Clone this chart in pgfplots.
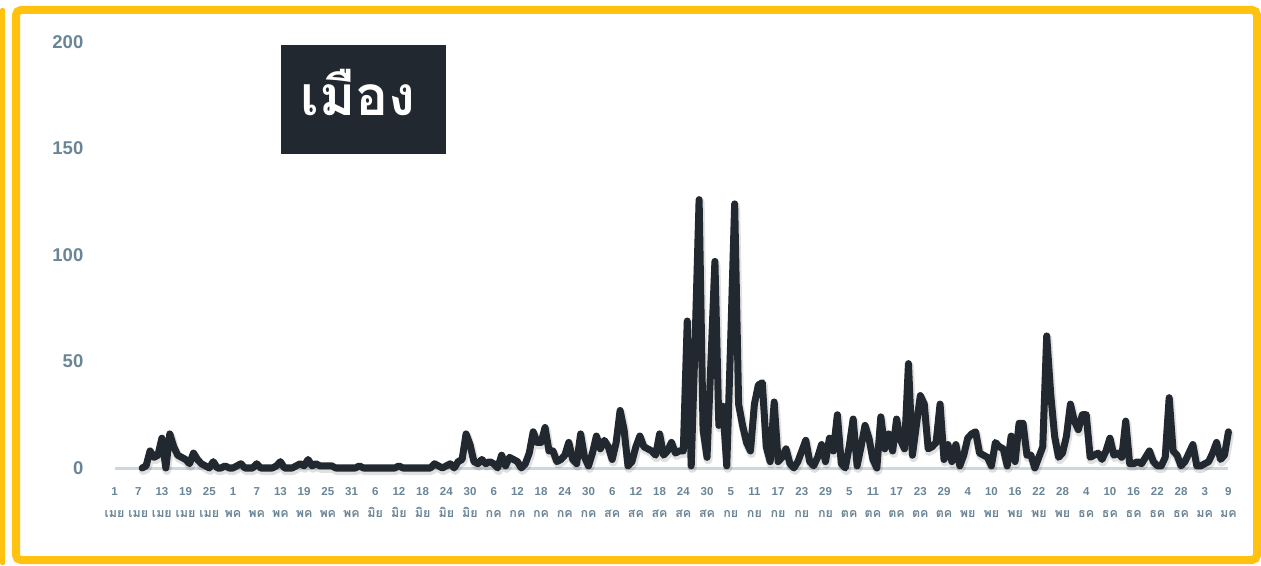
\documentclass[border=0pt]{standalone}
\usepackage{fontspec}
\setmainfont{Liberation Sans}
\newfontfamily\thaifont[Script=Thai]{Loma}
\usepackage{pgfplots}
\pgfplotsset{compat=1.18}

\definecolor{frame}{HTML}{FFC20E}
\definecolor{ink}{HTML}{22282F}
\definecolor{ticktext}{HTML}{6A8596}
\definecolor{baseline}{HTML}{CDD7DE}

% day over month, two lines
\newcommand{\dm}[2]{#1\\{\thaifont\fontsize{12.5}{22}\selectfont #2}}

\pgfplotstableread{
x y
7 0
8 1
9 8
10 5
11 6
12 14
13 0
14 16
15 10
16 6
17 5
18 4
19 2
20 7
21 4
22 2
23 1
24 0
25 3
26 0
27 0
28 1
29 0
30 0
31 1
32 2
33 0
34 0
35 0
36 2
37 0
38 0
39 0
40 0
41 1
42 3
43 0
44 0
45 0
46 1
47 2
48 1
49 4
50 1
51 2
52 1
53 1
54 1
55 1
56 0
57 0
58 0
59 0
60 0
61 0
62 1
63 0
64 0
65 0
66 0
67 0
68 0
69 0
70 0
71 0
72 1
73 0
74 0
75 0
76 0
77 0
78 0
79 0
80 0
81 2
82 1
83 0
84 1
85 2
86 0
87 3
88 4
89 16
90 11
91 3
92 2
93 4
94 2
95 3
96 2
97 0
98 6
99 1
100 5
101 4
102 3
103 0
104 2
105 7
106 17
107 12
108 12
109 19
110 8
111 8
112 3
113 4
114 6
115 12
116 4
117 2
118 16
119 5
120 1
121 7
122 15
123 9
124 13
125 10
126 4
127 12
128 27
129 18
130 1
131 3
132 10
133 15
134 10
135 9
136 8
137 6
138 16
139 6
140 8
141 12
142 7
143 8
144 8
145 69
146 1
147 60
148 126
149 18
150 5
151 50
152 97
153 20
154 29
155 1
156 60
157 124
158 30
159 20
160 12
161 8
162 30
163 39
164 40
165 10
166 3
167 31
168 3
169 5
170 9
171 2
172 0
173 3
174 8
175 13
176 3
177 1
178 5
179 11
180 3
181 14
182 8
183 25
184 2
185 0
186 10
187 23
188 1
189 10
190 20
191 14
192 4
193 0
194 24
195 9
196 16
197 8
198 23
199 13
200 9
201 49
202 6
203 20
204 34
205 30
206 9
207 10
208 12
209 30
210 4
211 11
212 3
213 11
214 1
215 6
216 14
217 16
218 17
219 7
220 6
221 5
222 1
223 12
224 10
225 9
226 1
227 15
228 3
229 21
230 21
231 6
232 6
233 0
234 5
235 10
236 62
237 35
238 15
239 5
240 7
241 15
242 30
243 22
244 18
245 25
246 25
247 5
248 6
249 7
250 4
251 8
252 14
253 6
254 7
255 5
256 22
257 2
258 2
259 3
260 2
261 5
262 8
263 3
264 1
265 1
266 5
267 33
268 8
269 6
270 1
271 3
272 7
273 11
274 1
275 1
276 2
277 3
278 7
279 12
280 4
281 6
282 17
}\cases

\begin{document}
\begin{tikzpicture}[x=1pt,y=1pt]
\fill[white] (0,0) rectangle (1261,565);
\useasboundingbox (0,0) rectangle (1261,565);

% yellow frame
\fill[frame, rounded corners=2] (0,0) rectangle (5,557);
\draw[frame, line width=8, rounded corners=5] (16,5) rectangle (1257,555);

% title box
\fill[ink] (281,411) rectangle (446,520);
\node[text=white, font=\thaifont\bfseries\fontsize{55}{60}\selectfont] at (358,472) {เมือง};

\begin{axis}[
  at={(114.5pt,97pt)}, anchor=origin,
  scale only axis, width=1113.9pt, height=426pt,
  xmin=0, xmax=282, ymin=0, ymax=200,
  clip=false,
  axis x line=bottom, axis y line=left,
  x axis line style={-, draw=baseline, line width=3pt},
  y axis line style={draw=none},
  major tick length=0pt,
  ytick={0,50,100,150,200},
  xtick={0,6,...,282},
  xticklabels={
    \dm{1}{เมย},\dm{7}{เมย},\dm{13}{เมย},\dm{19}{เมย},\dm{25}{เมย},
    \dm{1}{พค},\dm{7}{พค},\dm{13}{พค},\dm{19}{พค},\dm{25}{พค},\dm{31}{พค},
    \dm{6}{มิย},\dm{12}{มิย},\dm{18}{มิย},\dm{24}{มิย},\dm{30}{มิย},
    \dm{6}{กค},\dm{12}{กค},\dm{18}{กค},\dm{24}{กค},\dm{30}{กค},
    \dm{6}{สค},\dm{12}{สค},\dm{18}{สค},\dm{24}{สค},\dm{30}{สค},
    \dm{5}{กย},\dm{11}{กย},\dm{17}{กย},\dm{23}{กย},\dm{29}{กย},
    \dm{5}{ตค},\dm{11}{ตค},\dm{17}{ตค},\dm{23}{ตค},\dm{29}{ตค},
    \dm{4}{พย},\dm{10}{พย},\dm{16}{พย},\dm{22}{พย},\dm{28}{พย},
    \dm{4}{ธค},\dm{10}{ธค},\dm{16}{ธค},\dm{22}{ธค},\dm{28}{ธค},
    \dm{3}{มค},\dm{9}{มค}},
  /pgf/number format/assume math mode=true,
  xticklabel style={align=center, text=ticktext, inner sep=0pt, anchor=north, yshift=-19pt,
    font=\bfseries\fontsize{11.5}{22}\selectfont},
  yticklabel style={text=ticktext, inner sep=0pt, anchor=east, xshift=-31pt,
    font=\bfseries\fontsize{18.5}{20}\selectfont},
]
\addplot[draw=black, opacity=0.12, line width=9pt, line join=round, line cap=round,
  xshift=1pt, yshift=-2.5pt] table[x=x, y=y] {\cases};
\addplot[draw=ink, line width=7pt, line join=round, line cap=round] table[x=x, y=y] {\cases};
\end{axis}
\end{tikzpicture}
\end{document}
